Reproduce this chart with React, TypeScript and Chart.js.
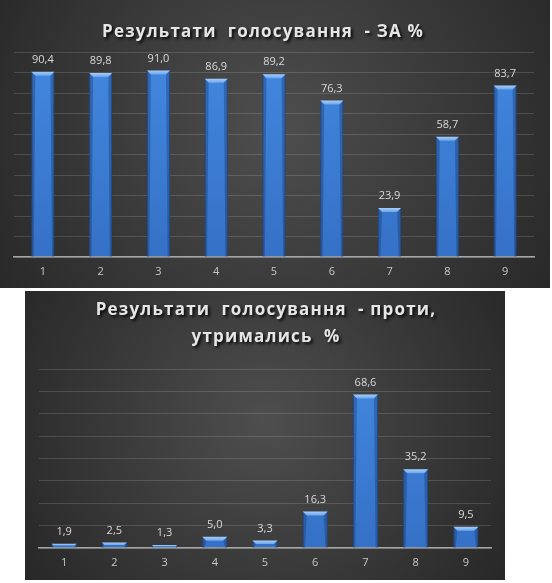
import React, { useEffect, useRef } from "react";
import { Chart, registerables } from "chart.js";

Chart.register(...registerables);

const categories = ["1", "2", "3", "4", "5", "6", "7", "8", "9"];
const forValues = [90.4, 89.8, 91.0, 86.9, 89.2, 76.3, 23.9, 58.7, 83.7];
const againstValues = [1.9, 2.5, 1.3, 5.0, 3.3, 16.3, 68.6, 35.2, 9.5];
const forTitle = ["Результати  голосування  - ЗА %"];
const againstTitle = ["Результати  голосування  - проти,", "утримались  %"];
const forAxisMax = 100;
const againstAxisMax = 80;
const axisStep = 10;

const FONT = "'Open Sans', 'DejaVu Sans', sans-serif";

type PanelProps = {
  values: number[];
  max: number;
  title: string[];
  titleX: number;
  titleY: number[];
  width: number;
  height: number;
  pad: { left: number; right: number; top: number };
  axisHeight: number;
  barPct: number;
  left: number;
  top: number;
};

const bgPlugin = {
  id: "bgGrad",
  beforeDraw(chart: any) {
    const { ctx, width, height } = chart;
    const g = ctx.createRadialGradient(width * 0.5, height * 0.45, 0, width * 0.5, height * 0.45, Math.max(width, height) * 0.62);
    g.addColorStop(0, "#4e4e4e");
    g.addColorStop(1, "#262626");
    ctx.save();
    ctx.fillStyle = g;
    ctx.fillRect(0, 0, width, height);
    ctx.restore();
  },
};

const barDecorPlugin = {
  id: "barDecor",
  afterDatasetsDraw(chart: any) {
    const { ctx } = chart;
    const meta = chart.getDatasetMeta(0);
    const data = chart.data.datasets[0].data as number[];
    ctx.save();
    meta.data.forEach((bar: any, i: number) => {
      const w = bar.width;
      const l = bar.x - w / 2;
      const r = bar.x + w / 2;
      const t = bar.y;
      const b = bar.base;
      const bev = Math.min(4, (b - t) / 2);
      ctx.beginPath();
      ctx.moveTo(l, t);
      ctx.lineTo(r, t);
      ctx.lineTo(r - bev, t + bev);
      ctx.lineTo(l + bev, t + bev);
      ctx.closePath();
      const tg = ctx.createLinearGradient(0, t, 0, t + bev);
      tg.addColorStop(0, "#a9cdf7");
      tg.addColorStop(1, "#6aa6ee");
      ctx.fillStyle = tg;
      ctx.fill();
      ctx.fillStyle = "rgba(20,50,100,0.35)";
      ctx.beginPath();
      ctx.moveTo(l, t);
      ctx.lineTo(l + bev, t + bev);
      ctx.lineTo(l + bev * 0.6, b);
      ctx.lineTo(l, b);
      ctx.closePath();
      ctx.fill();
      ctx.beginPath();
      ctx.moveTo(r, t);
      ctx.lineTo(r - bev, t + bev);
      ctx.lineTo(r - bev * 0.6, b);
      ctx.lineTo(r, b);
      ctx.closePath();
      ctx.fill();
      ctx.fillStyle = "#d9d9d9";
      ctx.font = `11px ${FONT}`;
      ctx.textAlign = "center";
      ctx.textBaseline = "middle";
      ctx.fillText(data[i].toFixed(1).replace(".", ","), bar.x, t - 12);
    });
    ctx.restore();
  },
};

function Panel(p: PanelProps) {
  const ref = useRef<HTMLCanvasElement>(null);
  useEffect(() => {
    if (!ref.current) return;
    const titlePlugin = {
      id: "titleDraw",
      afterDraw(chart: any) {
        const { ctx } = chart;
        ctx.save();
        ctx.font = `bold 17px ${FONT}`;
        (ctx as any).letterSpacing = "1.2px";
        ctx.textAlign = "center";
        ctx.textBaseline = "middle";
        ctx.shadowColor = "rgba(0,0,0,0.85)";
        ctx.shadowOffsetX = 2;
        ctx.shadowOffsetY = 2;
        ctx.shadowBlur = 3;
        ctx.fillStyle = "#e6e6e6";
        p.title.forEach((line, i) => ctx.fillText(line, p.titleX, p.titleY[i]));
        ctx.restore();
      },
    };
    const chart = new Chart(ref.current, {
      type: "bar",
      data: {
        labels: categories,
        datasets: [
          {
            data: p.values,
            backgroundColor: (c: any) => {
              const area = c.chart.chartArea;
              if (!area) return "#3b7dd8";
              const g = c.chart.ctx.createLinearGradient(0, area.top, 0, area.bottom);
              g.addColorStop(0, "#4388e0");
              g.addColorStop(1, "#3571c6");
              return g;
            },
            borderColor: "#2a5aa0",
            borderWidth: 1,
            barPercentage: p.barPct,
            categoryPercentage: 1,
          },
        ],
      },
      options: {
        animation: false,
        responsive: false,
        events: [],
        layout: { padding: { left: p.pad.left, right: p.pad.right, top: p.pad.top, bottom: 0 } },
        plugins: { legend: { display: false }, tooltip: { enabled: false }, title: { display: false } },
        scales: {
          x: {
            afterFit: (s: any) => {
              s.height = p.axisHeight;
            },
            grid: { display: false, drawTicks: false },
            border: { display: true, color: "#a6a6a6", width: 1.5 },
            ticks: { color: "#c8c8c8", font: { family: FONT, size: 11 }, padding: 8 },
          },
          y: {
            min: 0,
            max: p.max,
            afterFit: (s: any) => {
              s.width = 0;
            },
            ticks: { display: false, stepSize: axisStep },
            grid: { color: "rgba(255,255,255,0.14)", lineWidth: 1, drawTicks: false },
            border: { display: false },
          },
        },
      },
      plugins: [bgPlugin, barDecorPlugin, titlePlugin],
    });
    return () => chart.destroy();
  }, []);
  return (
    <canvas
      ref={ref}
      width={p.width}
      height={p.height}
      style={{ position: "absolute", left: p.left, top: p.top, width: p.width, height: p.height }}
    />
  );
}

export default function App() {
  return (
    <div style={{ position: "absolute", left: 0, top: 0, width: 552, height: 583, background: "#fff" }}>
      <Panel
        values={forValues}
        max={forAxisMax}
        title={forTitle}
        titleX={263}
        titleY={[32]}
        width={550}
        height={288}
        pad={{ left: 14, right: 16, top: 52 }}
        axisHeight={31}
        barPct={0.4}
        left={0}
        top={0}
      />
      <Panel
        values={againstValues}
        max={againstAxisMax}
        title={againstTitle}
        titleX={241}
        titleY={[19, 46]}
        width={480}
        height={289}
        pad={{ left: 14, right: 14, top: 78 }}
        axisHeight={32}
        barPct={0.5}
        left={25}
        top={291}
      />
    </div>
  );
}
